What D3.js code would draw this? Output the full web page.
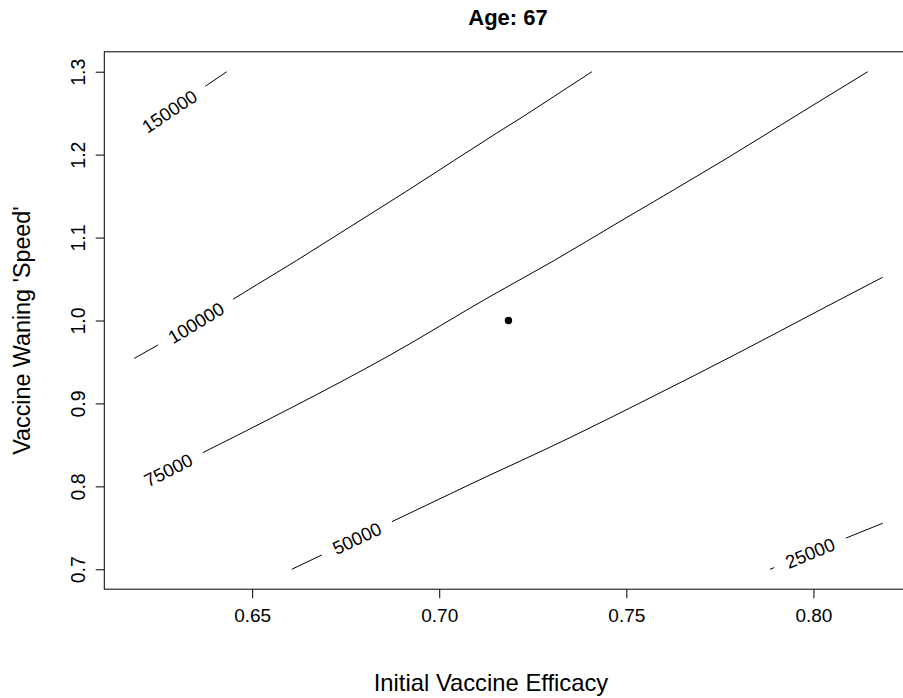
<!DOCTYPE html>
<html>
<head>
<meta charset="utf-8">
<script src="https://cdn.jsdelivr.net/npm/d3@7"></script>
<style>
  html, body { margin: 0; padding: 0; background: #fff; }
  svg { display: block; }
  text { font-family: "Liberation Sans", Arial, Helvetica, sans-serif; fill: #000; }
</style>
</head>
<body>
<svg id="chart" width="903" height="698"></svg>
<script>
// Axis ticks
const xTicks = [0.65, 0.70, 0.75, 0.80];
const yTicks = [0.7, 0.8, 0.9, 1.0, 1.1, 1.2, 1.3];

// Contour levels and their traced paths: [initial efficacy, waning speed]
const levels = [25000, 50000, 75000, 100000, 150000];
const contour25000 = [[0.7884, 0.7000], [0.7991, 0.7197], [0.8084, 0.7371], [0.8185, 0.7555]];
const contour50000 = [[0.6606, 0.7000], [0.6686, 0.7172], [0.6780, 0.7374], [0.6873, 0.7573],
  [0.7082, 0.8023], [0.7350, 0.8589], [0.7563, 0.9066], [0.7804, 0.9620], [0.8020, 1.0133], [0.8185, 1.0521]];
const contour75000 = [[0.6185, 0.7992], [0.6276, 0.8197], [0.6365, 0.8399], [0.6601, 0.8939],
  [0.6869, 0.9584], [0.7136, 1.0290], [0.7305, 1.0718], [0.7483, 1.1194], [0.7750, 1.1905],
  [0.7964, 1.2499], [0.8145, 1.3000]];
const contour100000 = [[0.6185, 0.9543], [0.6245, 0.9696], [0.6350, 0.9972], [0.6450, 1.0259],
  [0.6619, 1.0724], [0.6708, 1.0977], [0.6922, 1.1586], [0.7154, 1.2261], [0.7216, 1.2436],
  [0.7312, 1.2717], [0.7408, 1.3000]];
const contour150000 = [[0.6185, 1.2249], [0.6286, 1.2544], [0.6380, 1.2840], [0.6432, 1.3000]];
const contours = [contour25000, contour50000, contour75000, contour100000, contour150000];

// Efficacy at which each level's label sits on its line
const labelAtX = [0.7991, 0.6780, 0.6276, 0.6350, 0.6279];

// Baseline scenario
const baseline = [[0.7185, 1.0]];

const title = "Age: 67";
const xLabel = "Initial Vaccine Efficacy";
const yLabel = "Vaccine Waning 'Speed'";

const svg = d3.select("#chart");

const x = d3.scaleLinear().domain([0.6105, 0.8265]).range([104.3, 912.6]);
const y = d3.scaleLinear().domain([0.676, 1.324]).range([589.2, 51.8]);

const [x0, x1] = x.range();
const [yb, yt] = y.range();

// Plot frame
svg.append("rect")
  .attr("x", x0).attr("y", yt)
  .attr("width", x1 - x0).attr("height", yb - yt)
  .attr("fill", "none").attr("stroke", "#000").attr("stroke-width", 1);

// Bottom axis
const gx = svg.append("g")
  .attr("transform", `translate(0,${yb})`)
  .call(d3.axisBottom(x).tickValues(xTicks).tickFormat(d3.format(".2f")).tickSize(9).tickPadding(0));
gx.select(".domain").remove();
gx.selectAll(".tick line").attr("stroke", "#000");
gx.selectAll(".tick text")
  .attr("y", 32.8).attr("dy", 0)
  .style("font-size", "19px").style("font-family", null);

// Left axis, labels parallel to the axis
const gy = svg.append("g")
  .attr("transform", `translate(${x0},0)`)
  .call(d3.axisLeft(y).tickValues(yTicks).tickFormat(d3.format(".1f")).tickSize(8.6));
gy.select(".domain").remove();
gy.selectAll(".tick line").attr("stroke", "#000");
gy.selectAll(".tick text")
  .attr("transform", "rotate(-90)")
  .attr("x", 0).attr("y", -19.3).attr("dy", 0)
  .attr("text-anchor", "middle")
  .style("font-size", "19.5px").style("font-family", null);

// Contour lines with labels set into gaps
const line = d3.line().x(d => x(d[0])).y(d => y(d[1])).curve(d3.curveMonotoneX);
const fmt = d3.format("d");

contours.forEach((pts, i) => {
  const path = svg.append("path")
    .attr("d", line(pts))
    .attr("fill", "none").attr("stroke", "#000").attr("stroke-width", 1);
  const node = path.node();
  const total = node.getTotalLength();

  // locate arc length where the label centre sits
  const tx = x(labelAtX[i]);
  let lo = 0, hi = total;
  for (let k = 0; k < 40; k++) {
    const mid = (lo + hi) / 2;
    if (node.getPointAtLength(mid).x < tx) lo = mid; else hi = mid;
  }
  const sc = (lo + hi) / 2;
  const c = node.getPointAtLength(sc);
  const p1 = node.getPointAtLength(Math.max(0, sc - 4));
  const p2 = node.getPointAtLength(Math.min(total, sc + 4));
  const ang = Math.atan2(p2.y - p1.y, p2.x - p1.x) * 180 / Math.PI;

  const label = svg.append("text")
    .attr("transform", `translate(${c.x},${c.y}) rotate(${ang})`)
    .attr("text-anchor", "middle")
    .attr("dy", "0.36em")
    .style("font-size", "18.5px")
    .text(fmt(levels[i]));
  const w = label.node().getComputedTextLength();

  const gs = Math.max(0, sc - w / 2 - 13);
  const ge = Math.min(total, sc + w / 2 + 13);
  path.attr("stroke-dasharray", gs <= 2 ? `0 ${ge} ${total}` : `${gs} ${ge - gs} ${total}`);
});

// Baseline point
svg.selectAll("circle.base")
  .data(baseline)
  .enter().append("circle")
  .attr("class", "base")
  .attr("cx", d => x(d[0])).attr("cy", d => y(d[1]))
  .attr("r", 3.7).attr("fill", "#000");

// Titles
svg.append("text")
  .attr("x", 508).attr("y", 25)
  .attr("text-anchor", "middle")
  .style("font-size", "22px").style("font-weight", "bold")
  .text(title);

svg.append("text")
  .attr("x", 491).attr("y", 691)
  .attr("text-anchor", "middle")
  .style("font-size", "23.8px")
  .text(xLabel);

svg.append("text")
  .attr("transform", "translate(30,330.5) rotate(-90)")
  .attr("text-anchor", "middle")
  .style("font-size", "23.3px")
  .text(yLabel);
</script>
</body>
</html>
